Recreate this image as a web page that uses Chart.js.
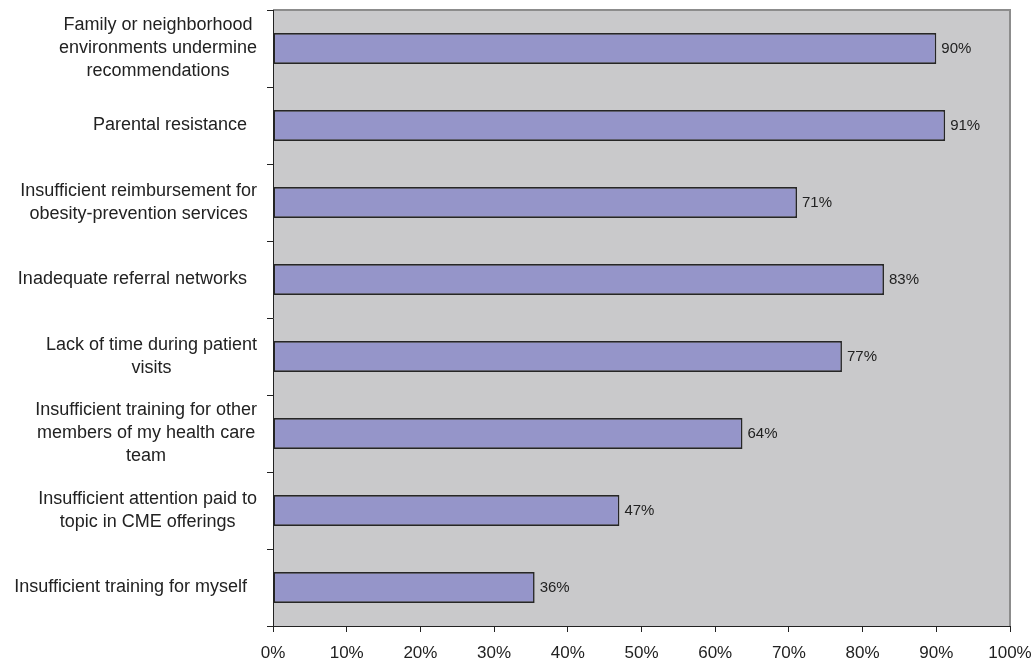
<!DOCTYPE html>
<html>
<head>
<meta charset="utf-8">
<title>Barriers</title>
<script src="https://cdn.jsdelivr.net/npm/chart.js@4.4.1/dist/chart.umd.min.js"></script>
<style>
  html, body { margin: 0; padding: 0; background: #fff; }
  canvas { display: block; }
</style>
</head>
<body>
<canvas id="chart" width="1034" height="662"></canvas>
<script>
// Category labels, already wrapped the way the original shows them
const categories = [
  ['Family or neighborhood', 'environments undermine', 'recommendations'],
  ['Parental resistance  '],
  ['Insufficient reimbursement for', 'obesity-prevention services'],
  ['Inadequate referral networks  '],
  ['Lack of time during patient', 'visits'],
  ['Insufficient training for other', 'members of my health care', 'team'],
  ['Insufficient attention paid to', 'topic in CME offerings'],
  ['Insufficient training for myself  ']
];

// Percent of respondents
const values = [90, 91.2, 71.1, 82.9, 77.2, 63.7, 47, 35.5];

// x axis ticks
const xMin = 0;
const xMax = 100;
const xStep = 10;

const FONT = '"Liberation Sans", Arial, sans-serif';
const TEXT = '#222222';
const PLOT_BG = '#c9c9cb';
const PLOT_EDGE = '#8c8c8c';
const AXIS_LEFT = 273;

// gray plot area with gray top/right edges
const plotArea = {
  id: 'plotArea',
  beforeDraw(chart) {
    const a = chart.chartArea;
    const ctx = chart.ctx;
    ctx.save();
    ctx.fillStyle = PLOT_BG;
    ctx.fillRect(a.left, a.top, a.right - a.left, a.bottom - a.top);
    ctx.strokeStyle = PLOT_EDGE;
    ctx.lineWidth = 2;
    ctx.beginPath();
    ctx.moveTo(a.left, a.top);
    ctx.lineTo(a.right, a.top);
    ctx.lineTo(a.right, a.bottom);
    ctx.stroke();
    ctx.restore();
  }
};

// y labels: block right-aligned, lines centered inside the block
const categoryLabels = {
  id: 'categoryLabels',
  afterDraw(chart) {
    const ctx = chart.ctx;
    const y = chart.scales.y;
    const lineH = 23;
    const right = AXIS_LEFT - 16;
    ctx.save();
    ctx.font = '18px ' + FONT;
    ctx.fillStyle = TEXT;
    ctx.textAlign = 'center';
    ctx.textBaseline = 'middle';
    categories.forEach((lines, i) => {
      const cy = y.getPixelForTick(i);
      const w = Math.max(...lines.map(l => ctx.measureText(l).width));
      const cx = right - w / 2;
      lines.forEach((l, j) => {
        ctx.fillText(l, cx, cy + (j - (lines.length - 1) / 2) * lineH);
      });
    });
    ctx.restore();
  }
};

// percent label after each bar
const valueLabels = {
  id: 'valueLabels',
  afterDatasetsDraw(chart) {
    const ctx = chart.ctx;
    const meta = chart.getDatasetMeta(0);
    ctx.save();
    ctx.font = '15px ' + FONT;
    ctx.fillStyle = TEXT;
    ctx.textAlign = 'left';
    ctx.textBaseline = 'middle';
    meta.data.forEach((bar, i) => {
      ctx.fillText(Math.round(values[i]) + '%', bar.x + 5, bar.y);
    });
    ctx.restore();
  }
};

new Chart(document.getElementById('chart'), {
  type: 'bar',
  data: {
    labels: categories,
    datasets: [{
      data: values,
      backgroundColor: '#9595c9',
      borderColor: '#262626',
      borderWidth: 1.6,
      borderSkipped: false,
      categoryPercentage: 1,
      barPercentage: 0.4
    }]
  },
  options: {
    indexAxis: 'y',
    responsive: false,
    animation: false,
    layout: { padding: { top: 10, right: 24, bottom: 0, left: 0 } },
    plugins: {
      legend: { display: false },
      tooltip: { enabled: false }
    },
    scales: {
      x: {
        min: xMin,
        max: xMax,
        ticks: {
          stepSize: xStep,
          callback: v => v + '%',
          font: { family: FONT, size: 17 },
          color: TEXT,
          padding: 11,
          maxRotation: 0
        },
        grid: { drawOnChartArea: false, tickLength: 6, color: TEXT },
        border: { color: TEXT, width: 1 },
        afterFit(s) {
          s.height = 36;
          s.paddingLeft = 0;
          s.paddingRight = 0;
        }
      },
      y: {
        ticks: { display: false },
        grid: { offset: true, drawOnChartArea: false, tickLength: 6, color: TEXT },
        border: { color: TEXT, width: 1 },
        afterFit(s) {
          s.width = AXIS_LEFT;
          s.paddingTop = 0;
          s.paddingBottom = 0;
        }
      }
    }
  },
  plugins: [plotArea, categoryLabels, valueLabels]
});
</script>
</body>
</html>
